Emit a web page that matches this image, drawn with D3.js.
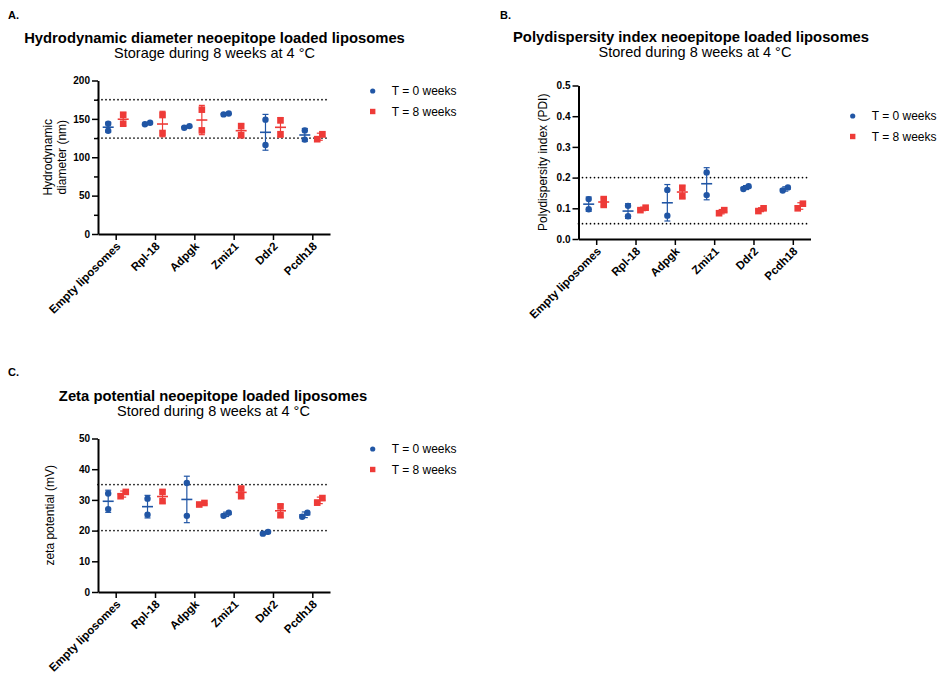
<!DOCTYPE html>
<html>
<head>
<meta charset="utf-8">
<script src="https://cdn.jsdelivr.net/npm/d3@7"></script>
<style>
  html, body { margin: 0; padding: 0; background: #fff; }
  svg { display: block; font-family: "Liberation Sans", Arial, Helvetica, sans-serif; }
</style>
</head>
<body>
<svg id="chart" width="941" height="675"></svg>
<script>
// ---------- DATA ----------
const categories = ["Empty liposomes", "Rpl-18", "Adpgk", "Zmiz1", "Ddr2", "Pcdh18"];
const seriesNames = ["T = 0 weeks", "T = 8 weeks"];

// Hydrodynamic diameter (nm), two replicates per category
const diameterT0 = [[143.7, 134.6], [143, 145], [138.5, 140.6], [155.8, 157.1], [149, 116], [135, 123]];
const diameterT8 = [[155.4, 143.7], [155, 131.6], [162, 135], [140.6, 128.6], [148, 130], [123.5, 130]];
const diameterLimits = [125, 175];
const diameterTicks = [0, 50, 100, 150, 200];
const diameterMinorTicks = [25, 75, 125, 175];

// Polydispersity index
const pdiT0 = [[0.130, 0.097], [0.108, 0.074], [0.160, 0.076], [0.217, 0.143], [0.163, 0.172], [0.158, 0.168]];
const pdiT8 = [[0.130, 0.111], [0.094, 0.102], [0.167, 0.139], [0.094, 0.084], [0.091, 0.100], [0.100, 0.115]];
const pdiLimits = [0.05, 0.2];
const pdiTicks = [0, 0.1, 0.2, 0.3, 0.4, 0.5];

// Zeta potential (mV)
const zetaT0 = [[32.1, 27.0], [30.4, 25.2], [35.5, 24.8], [24.8, 25.8], [19.0, 19.6], [24.5, 25.8]];
const zetaT8 = [[31.2, 32.6], [32.6, 29.6], [28.5, 29.0], [33.7, 31.2], [27.9, 25.0], [29.1, 30.6]];
const zetaLimits = [20, 35];
const zetaTicks = [0, 10, 20, 30, 40, 50];

// ---------- STYLE ----------
const BLUE = "#2156a5";
const RED = "#ee3b38";
const svg = d3.select("#chart");

function drawPanel(o) {
  const g = svg.append("g");
  const x = d3.scalePoint().domain(categories).range([o.x0, o.x1]).padding(0.45);
  const y = d3.scaleLinear().domain([o.ticks[0], o.ticks[o.ticks.length - 1]]).range([o.yBottom, o.yTop]);

  // panel letter, title
  g.append("text").attr("x", o.letterX).attr("y", o.letterY)
    .attr("font-size", 11).attr("font-weight", "bold").text(o.letter);
  g.append("text").attr("x", o.titleX).attr("y", o.titleY).attr("text-anchor", "middle")
    .attr("font-size", 14.8).attr("font-weight", "bold").text(o.title);
  g.append("text").attr("x", o.subX).attr("y", o.titleY + 15).attr("text-anchor", "middle")
    .attr("font-size", 14.5).text(o.subtitle);

  // reference dotted lines
  o.limits.forEach(v => {
    g.append("line").attr("x1", o.x0).attr("x2", o.x1).attr("y1", y(v)).attr("y2", y(v))
      .attr("stroke", "#000").attr("stroke-width", 1.7)
      .attr("stroke-linecap", "round").attr("stroke-dasharray", "0,4");
  });

  // y axis
  const ya = g.append("g").attr("transform", `translate(${o.x0},0)`)
    .call(d3.axisLeft(y).tickValues(o.ticks).tickSize(6).tickSizeOuter(0).tickPadding(2).tickFormat(o.fmt));
  if (o.minor) {
    g.append("g").attr("transform", `translate(${o.x0},0)`)
      .call(d3.axisLeft(y).tickValues(o.minor).tickSize(4).tickSizeOuter(0).tickFormat(""))
      .call(s => s.select(".domain").remove())
      .selectAll("line").attr("stroke-width", 1.5);
  }
  ya.select(".domain").attr("stroke-width", 2);
  ya.selectAll(".tick line").attr("stroke-width", 1.5);
  ya.selectAll("text").attr("font-size", 10).attr("font-weight", "bold").attr("fill", "#000")
    .attr("font-family", "Liberation Sans, Arial, sans-serif");

  // x axis
  const xa = g.append("g").attr("transform", `translate(0,${o.yBottom})`)
    .call(d3.axisBottom(x).tickSize(6).tickSizeOuter(0));
  xa.select(".domain").attr("stroke-width", 2);
  xa.selectAll(".tick line").attr("stroke-width", 1.5);
  xa.selectAll("text").attr("font-size", 11.5).attr("font-weight", "bold").attr("fill", "#000")
    .attr("font-family", "Liberation Sans, Arial, sans-serif")
    .attr("x", 0).attr("y", 0).attr("dy", 0)
    .attr("text-anchor", "end")
    .attr("transform", "translate(5,13) rotate(-45)");

  // y label
  const yl = g.append("text").attr("text-anchor", "middle").attr("font-size", 12)
    .attr("transform", `translate(${o.ylabelX},${(o.yTop + o.yBottom) / 2}) rotate(-90)`);
  o.ylabel.forEach((line, i) => {
    yl.append("tspan").attr("x", 0).attr("dy", i === 0 ? (-(o.ylabel.length - 1) * 14) : 14).text(line);
  });

  // series
  const series = [
    { vals: o.t0, color: BLUE, shape: "circle", off: -7.5 },
    { vals: o.t8, color: RED, shape: "square", off: 7.5 }
  ];
  series.forEach(s => {
    s.vals.forEach((reps, ci) => {
      const cx = x(categories[ci]) + s.off;
      const mean = d3.mean(reps);
      const sd = d3.deviation(reps);
      // jitter overlapping replicates
      const py = reps.map(v => y(v));
      const close = Math.abs(py[0] - py[1]) < 5.5;
      const order = reps[0] <= reps[1] ? [-1, 1] : [1, -1];
      reps.forEach((v, ri) => {
        const px = cx + (close ? order[ri] * 2.6 : 0);
        if (s.shape === "circle") {
          g.append("circle").attr("cx", px).attr("cy", y(v)).attr("r", 3.2).attr("fill", s.color);
        } else {
          g.append("rect").attr("x", px - 3.3).attr("y", y(v) - 3.3).attr("width", 6.6).attr("height", 6.6).attr("fill", s.color);
        }
      });
      // error bar (mean ± SD)
      g.append("line").attr("x1", cx).attr("x2", cx).attr("y1", y(mean - sd)).attr("y2", y(mean + sd))
        .attr("stroke", s.color).attr("stroke-width", 1.2);
      [mean - sd, mean + sd].forEach(v => {
        g.append("line").attr("x1", cx - 3).attr("x2", cx + 3).attr("y1", y(v)).attr("y2", y(v))
          .attr("stroke", s.color).attr("stroke-width", 1.2);
      });
      g.append("line").attr("x1", cx - 5.5).attr("x2", cx + 5.5).attr("y1", y(mean)).attr("y2", y(mean))
        .attr("stroke", s.color).attr("stroke-width", 1.6);
    });
  });

  // legend
  seriesNames.forEach((name, i) => {
    const ly = o.legendY + i * 20.5;
    if (i === 0) g.append("circle").attr("cx", o.legendX).attr("cy", ly).attr("r", 2.6).attr("fill", BLUE);
    else g.append("rect").attr("x", o.legendX - 2.7).attr("y", ly - 2.7).attr("width", 5.4).attr("height", 5.4).attr("fill", RED);
    g.append("text").attr("x", o.legendX + 19).attr("y", ly).attr("dy", "0.35em")
      .attr("font-size", 12).text(name);
  });
}

drawPanel({
  x0: 98, x1: 330, yTop: 80.5, yBottom: 234,
  ticks: diameterTicks, minor: diameterMinorTicks, fmt: d3.format("d"),
  t0: diameterT0, t8: diameterT8, limits: diameterLimits,
  letter: "A.", letterX: 8, letterY: 19,
  title: "Hydrodynamic diameter neoepitope loaded liposomes", titleX: 214.5, titleY: 42.5,
  subtitle: "Storage during 8 weeks at 4 \u00B0C", subX: 214.5,
  ylabel: ["Hydrodynamic", "diameter (nm)"], ylabelX: 66,
  legendX: 372.7, legendY: 91
});

drawPanel({
  x0: 578.5, x1: 810.5, yTop: 85.5, yBottom: 239,
  ticks: pdiTicks, minor: null, fmt: d3.format(".1f"),
  t0: pdiT0, t8: pdiT8, limits: pdiLimits,
  letter: "B.", letterX: 500, letterY: 19,
  title: "Polydispersity index neoepitope loaded liposomes", titleX: 691, titleY: 42,
  subtitle: "Stored during 8 weeks at 4 \u00B0C", subX: 695,
  ylabel: ["Polydispersity index (PDI)"], ylabelX: 547,
  legendX: 852.7, legendY: 116
});

drawPanel({
  x0: 98, x1: 330, yTop: 438.5, yBottom: 592,
  ticks: zetaTicks, minor: null, fmt: d3.format("d"),
  t0: zetaT0, t8: zetaT8, limits: zetaLimits,
  letter: "C.", letterX: 8, letterY: 376,
  title: "Zeta potential neoepitope loaded liposomes", titleX: 213, titleY: 400.5,
  subtitle: "Stored during 8 weeks at 4 \u00B0C", subX: 213.5,
  ylabel: ["zeta potential (mV)"], ylabelX: 54,
  legendX: 372.7, legendY: 449
});
</script>
</body>
</html>
